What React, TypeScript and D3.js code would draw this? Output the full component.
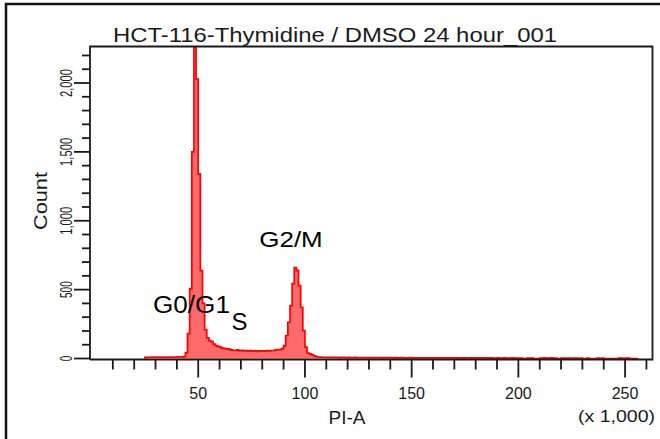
import React from 'react';
import * as d3 from 'd3';

const title = 'HCT-116-Thymidine / DMSO 24 hour_001';
const xLabel = 'PI-A';
const xUnit = '(x 1,000)';
const yLabel = 'Count';
const xMajorTicks = [50, 100, 150, 200, 250];
const xMinorTicks = d3.range(10, 261, 10);
const yMajorTicks = [0, 500, 1000, 1500, 2000];
const yTickLabels = ['0', '500', '1,000', '1,500', '2,000'];
const yMinorTicks = d3.range(0, 2201, 100);
const binStart = 25; // in thousands
const binWidth = 1;
const counts = [
  // 25..43
  8, 9, 9, 10, 9, 10, 10, 9, 10, 11, 10, 10, 11, 10, 11, 12, 11, 12, 14,
  // 44..58
  43, 180, 507, 1500, 2500, 2029, 1340, 638, 400, 210, 150, 130, 122, 104, 94,
  // 59..87
  88, 82, 76, 72, 70, 68, 62, 60, 58, 62, 57, 60, 55, 58, 54, 57, 53, 56, 52, 55, 53, 56, 54, 57, 55, 58, 58, 62, 64,
  // 88..106
  65, 72, 94, 167, 263, 384, 543, 660, 640, 529, 372, 203, 82, 40, 34, 28, 20, 14, 11,
  // 107..199
  10, 9, 9, 8, 9, 8, 8, 9, 8, 7,
  8, 8, 7, 8, 7, 7, 8, 7, 7, 6,
  7, 7, 6, 7, 6, 6, 7, 6, 6, 5,
  6, 6, 5, 6, 5, 6, 5, 5, 6, 5,
  5, 5, 6, 5, 5, 4, 5, 5, 4, 5,
  5, 4, 5, 4, 5, 4, 4, 5, 4, 4,
  5, 4, 4, 4, 5, 4, 4, 3, 4, 4,
  4, 3, 4, 4, 3, 4, 3, 4, 4, 3,
  4, 3, 3, 4, 3, 3, 4, 3, 3, 3,
  4, 3, 3,
  // 200..255
  3, 3, 0, 0, 3, 3, 3, 0, 0, 0,
  3, 3, 4, 3, 3, 4, 3, 3, 0, 0,
  3, 3, 0, 3, 3, 0, 3, 3, 0, 3,
  0, 0, 3, 0, 0, 0, 0, 3, 0, 3,
  0, 0, 0, 0, 0, 0, 0, 3, 3, 0,
  3, 3, 0, 0, 0, 0,
];
const phaseLabels = ['G0/G1', 'S', 'G2/M'];

export default function App() {
  const W = 660, H = 439;
  const left = 90, right = 652.5, top = 46.5, axisY = 359.5;
  const x = d3.scaleLinear().domain([0, 262.144]).range([91.5, 651]);
  const y = d3.scaleLinear().domain([0, 2265]).range([358.5, top]);

  const pts = counts.map((c, i) => ({ v: binStart + i * binWidth, c }));
  pts.push({ v: binStart + counts.length * binWidth, c: 0 });
  const area = d3.area<{ v: number; c: number }>()
    .x(d => x(d.v)).y0(y(0)).y1(d => y(d.c)).curve(d3.curveStepAfter);
  const line = d3.line<{ v: number; c: number }>()
    .x(d => x(d.v)).y(d => y(d.c)).curve(d3.curveStepAfter);
  const linePts = [{ v: binStart, c: 0 }, ...pts];

  const font = 'Liberation Sans, Arial, sans-serif';
  const ink = '#1a1a1a';

  return (
    <svg width={W} height={H} style={{ position: 'absolute', left: 0, top: 0, background: '#fff' }}
      fontFamily={font}>
      <defs>
        <clipPath id="plot">
          <rect x={left} y={top} width={right - left} height={axisY - top} />
        </clipPath>
      </defs>
      <rect x={6} y={4} width={720} height={520} fill="none" stroke="#111" strokeWidth={2.5} />
      <text x={113} y={42} fontSize={20} fill={ink} textLength={444} lengthAdjust="spacingAndGlyphs">{title}</text>

      <g clipPath="url(#plot)">
        <path d={area(pts) || ''} fill="#ff6b6b" />
        <path d={line(linePts) || ''} fill="none" stroke="#ff0000" strokeWidth={1.7} />
      </g>

      {/* frame */}
      <path d={`M${left},${axisY}V${top}H${right}V${axisY}H${left}`} fill="none" stroke={ink} strokeWidth={1.8} />

      {/* x ticks */}
      {xMinorTicks.map(t => {
        const major = t % 50 === 0;
        return <line key={'xt' + t} x1={x(t)} x2={x(t)} y1={axisY} y2={axisY + (major ? 18 : 10)} stroke={ink} strokeWidth={1.8} />;
      })}
      {xMajorTicks.map(t => (
        <text key={'xl' + t} x={x(t)} y={398.5} fontSize={16} textAnchor="middle" fill={ink}>{t}</text>
      ))}
      <text x={347} y={424} fontSize={19} textAnchor="middle" fill={ink}>{xLabel}</text>
      <text x={578} y={422} fontSize={17} fill={ink} textLength={77} lengthAdjust="spacingAndGlyphs">{xUnit}</text>

      {/* y ticks */}
      {yMinorTicks.map(t => {
        const major = t % 500 === 0;
        return <line key={'yt' + t} x1={left} x2={left - (major ? 16 : 8)} y1={y(t)} y2={y(t)} stroke={ink} strokeWidth={1.8} />;
      })}
      {yMajorTicks.map((t, i) => {
        const len = yTickLabels[i].length * 5.6;
        return (
          <text key={'yl' + t} transform={`translate(71.5,${y(t)}) rotate(-90)`} fontSize={17} textAnchor="middle" fill={ink}
            textLength={len} lengthAdjust="spacingAndGlyphs">{yTickLabels[i]}</text>
        );
      })}
      <text transform={`translate(46.5,201) rotate(-90)`} fontSize={18.5} textAnchor="middle" fill={ink}
        textLength={58} lengthAdjust="spacingAndGlyphs">{yLabel}</text>

      {/* phase labels */}
      <text x={153} y={313.3} fontSize={23} fill="#000" textLength={77} lengthAdjust="spacingAndGlyphs">{phaseLabels[0]}</text>
      <text x={231.5} y={330} fontSize={24} fill="#000">{phaseLabels[1]}</text>
      <text x={259.3} y={247.3} fontSize={22} fill="#000" textLength={63.4} lengthAdjust="spacingAndGlyphs">{phaseLabels[2]}</text>
    </svg>
  );
}
